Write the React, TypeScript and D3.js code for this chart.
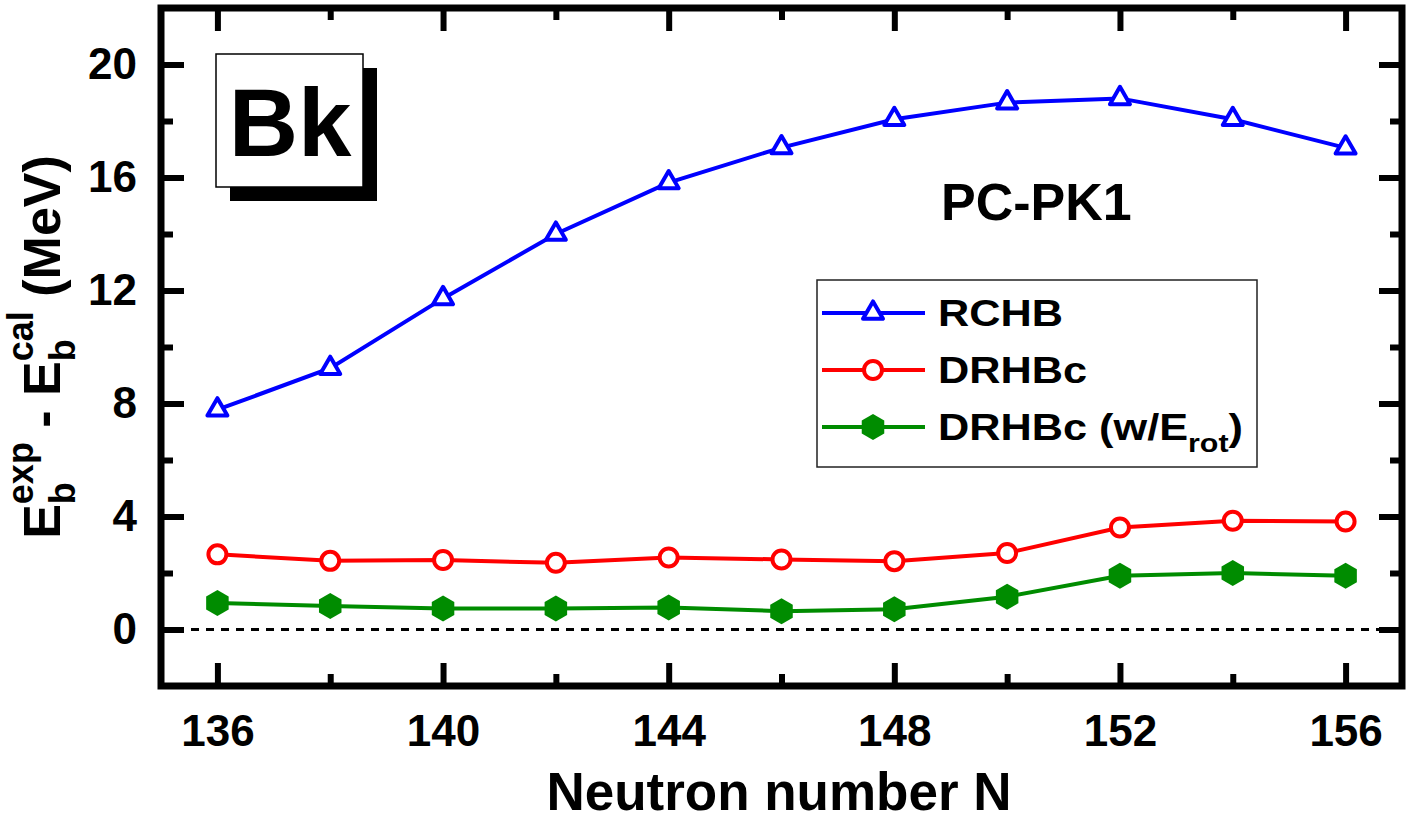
import { useEffect, useRef } from 'react';
import * as d3 from 'd3';

// neutron numbers
const neutrons = [136, 138, 140, 142, 144, 146, 148, 150, 152, 154, 156];

// E_b^exp - E_b^cal (MeV)
const rchb = [7.78, 9.25, 11.72, 14.0, 15.82, 17.06, 18.06, 18.65, 18.8, 18.06, 17.05];
const drhbc = [2.66, 2.43, 2.46, 2.36, 2.55, 2.48, 2.42, 2.71, 3.61, 3.85, 3.82];
const drhbcRot = [0.94, 0.83, 0.74, 0.74, 0.78, 0.65, 0.72, 1.16, 1.9, 2.0, 1.9];

const xMajor = [136, 140, 144, 148, 152, 156];
const xMinor = [138, 142, 146, 150, 154];
const yMajor = [0, 4, 8, 12, 16, 20];
const yMinor = [2, 6, 10, 14, 18];

const W = 1412;
const H = 826;
const FONT = '"Liberation Sans", Arial, Helvetica, sans-serif';

const series = [
  { name: 'RCHB', values: rchb, color: '#0000ff', marker: 'triangle' },
  { name: 'DRHBc', values: drhbc, color: '#ff0000', marker: 'circle' },
  { name: 'DRHBc (w/E', sub: 'rot', tail: ')', values: drhbcRot, color: '#008c00', marker: 'hexagon' },
];

const triPath = () => {
  const s = 20;
  const h = (s * Math.sqrt(3)) / 2;
  return `M0,${(-2 * h) / 3}L${s / 2},${h / 3}L${-s / 2},${h / 3}Z`;
};

const hexPath = () => {
  const R = 13;
  const pts = d3.range(6).map((i) => {
    const a = (Math.PI / 3) * i - Math.PI / 2;
    return [R * Math.cos(a), R * Math.sin(a)];
  });
  return 'M' + pts.map((p) => p.join(',')).join('L') + 'Z';
};

function Marker({ type, color, x, y }: { type: string; color: string; x: number; y: number }) {
  if (type === 'triangle') {
    return (
      <path d={triPath()} transform={`translate(${x},${y})`} fill="#fff" stroke={color}
        strokeWidth={4} strokeLinejoin="round" />
    );
  }
  if (type === 'circle') {
    return <circle cx={x} cy={y} r={9} fill="#fff" stroke={color} strokeWidth={4} />;
  }
  return <path d={hexPath()} transform={`translate(${x},${y})`} fill={color} />;
}

export default function App() {
  const bottomRef = useRef<SVGGElement>(null);
  const topRef = useRef<SVGGElement>(null);
  const leftRef = useRef<SVGGElement>(null);
  const rightRef = useRef<SVGGElement>(null);

  const left = 161;
  const right = 1402;
  const top = 8;
  const bottom = 686;

  const x = d3.scaleLinear().domain([135, 157]).range([left, right]);
  const y = d3.scaleLinear().domain([-2, 22]).range([bottom, top]);

  useEffect(() => {
    const style = (g: d3.Selection<SVGGElement, unknown, null, undefined>) => {
      g.select('.domain').remove();
      g.selectAll('line').attr('stroke', '#000').attr('stroke-width', 6);
      g.selectAll('text')
        .attr('fill', '#000')
        .style('font-family', FONT)
        .style('font-weight', 'bold')
        .style('font-size', '44px');
    };

    // bottom axis
    const b = d3.select(bottomRef.current!);
    b.selectAll('*').remove();
    b.append('g').call(
      d3.axisBottom(x).tickValues(xMajor).tickSize(-23).tickPadding(29).tickFormat(d3.format('d'))
    ).call(style);
    b.append('g').call(d3.axisBottom(x).tickValues(xMinor).tickSize(-12).tickFormat(() => '')).call(style);

    // top axis
    const t = d3.select(topRef.current!);
    t.selectAll('*').remove();
    t.append('g').call(d3.axisTop(x).tickValues(xMajor).tickSize(-23).tickFormat(() => '')).call(style);
    t.append('g').call(d3.axisTop(x).tickValues(xMinor).tickSize(-12).tickFormat(() => '')).call(style);

    // left axis
    const l = d3.select(leftRef.current!);
    l.selectAll('*').remove();
    l.append('g').call(
      d3.axisLeft(y).tickValues(yMajor).tickSize(-23).tickPadding(24).tickFormat(d3.format('d'))
    ).call(style);
    l.append('g').call(d3.axisLeft(y).tickValues(yMinor).tickSize(-12).tickFormat(() => '')).call(style);

    // right axis
    const r = d3.select(rightRef.current!);
    r.selectAll('*').remove();
    r.append('g').call(d3.axisRight(y).tickValues(yMajor).tickSize(-23).tickFormat(() => '')).call(style);
    r.append('g').call(d3.axisRight(y).tickValues(yMinor).tickSize(-12).tickFormat(() => '')).call(style);
  }, []);

  const line = d3
    .line<number>()
    .x((_, i) => x(neutrons[i]))
    .y((d) => y(d));

  const legendX = 817;
  const legendY = 280;
  const rowGap = 57;

  return (
    <svg width={W} height={H} style={{ position: 'absolute', left: 0, top: 0, background: '#fff' }}
      fontFamily={FONT} fontWeight="bold">
      {/* zero reference */}
      <line x1={left} x2={right} y1={y(0)} y2={y(0)} stroke="#000" strokeWidth={3} strokeDasharray="8,7" />

      {/* series */}
      {series.map((s) => (
        <g key={s.name + s.marker}>
          <path d={line(s.values) || ''} fill="none" stroke={s.color} strokeWidth={4} />
          {s.values.map((v, i) => (
            <Marker key={i} type={s.marker} color={s.color} x={x(neutrons[i])} y={y(v)} />
          ))}
        </g>
      ))}

      {/* frame and ticks */}
      <rect x={left} y={top} width={right - left} height={bottom - top} fill="none" stroke="#000" strokeWidth={7} />
      <g ref={bottomRef} transform={`translate(0,${bottom})`} />
      <g ref={topRef} transform={`translate(0,${top})`} />
      <g ref={leftRef} transform={`translate(${left},0)`} />
      <g ref={rightRef} transform={`translate(${right},0)`} />

      {/* element label */}
      <rect x={363} y={68} width={14} height={133} fill="#000" />
      <rect x={230} y={187} width={147} height={14} fill="#000" />
      <rect x={216} y={54} width={147} height={133} fill="#fff" stroke="#000" strokeWidth={1.5} />
      <text x={290} y={156} textAnchor="middle" fontSize={96}>Bk</text>

      <text x={941} y={220} fontSize={52}>PC-PK1</text>

      {/* legend */}
      <rect x={legendX} y={legendY} width={440} height={187} fill="#fff" stroke="#222" strokeWidth={1.5} />
      {series.map((s, i) => {
        const cy = legendY + 33 + i * rowGap;
        return (
          <g key={'lg' + i}>
            <line x1={legendX + 5} x2={legendX + 108} y1={cy} y2={cy} stroke={s.color} strokeWidth={4} />
            <Marker type={s.marker} color={s.color} x={legendX + 56} y={cy} />
            <g transform={`translate(${legendX + 121},${cy + 13}) scale(1.17,1)`}>
              <text x={0} y={0} fontSize={37}>
                {s.name}
                {s.sub && <tspan fontSize={26} dy={12}>{s.sub}</tspan>}
                {s.tail && <tspan dy={-12}>{s.tail}</tspan>}
              </text>
            </g>
          </g>
        );
      })}

      {/* axis titles */}
      <text x={779} y={810} textAnchor="middle" fontSize={53}>Neutron number N</text>
      <text transform={`translate(60,${(top + bottom) / 2}) rotate(-90)`} textAnchor="middle" fontSize={52}>
        <tspan>E</tspan>
        <tspan fontSize={36} dy={15}>b</tspan>
        <tspan fontSize={36} dx={-22} dy={-42}>exp</tspan>
        <tspan dy={27}> - E</tspan>
        <tspan fontSize={36} dy={15}>b</tspan>
        <tspan fontSize={36} dx={-22} dy={-42}>cal</tspan>
        <tspan dy={27}> (MeV)</tspan>
      </text>
    </svg>
  );
}
